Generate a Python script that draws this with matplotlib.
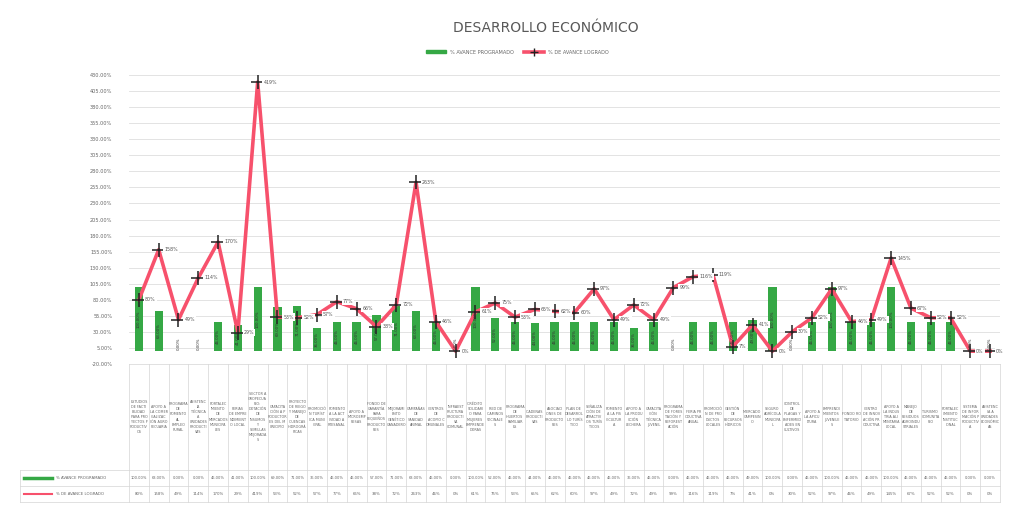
import textwrap
import matplotlib
matplotlib.use("Agg")
import matplotlib.pyplot as plt
from matplotlib.lines import Line2D
from matplotlib.patches import Patch

# data (values in %)
categorias = [
    "Estudios de factibilidad para proyectos productivos",
    "Apoyo a la comercialización agropecuaria",
    "Programa de fomento al empleo rural",
    "Asistencia técnica a unidades productivas",
    "Fortalecimiento de mercados municipales",
    "Ferias de emprendimiento local",
    "Sector agropecuario: dotación de insumos y semillas mejoradas",
    "Capacitación a productores del municipio",
    "Proyecto de riego y manejo de cuencas hidrográficas",
    "Promoción turística municipal",
    "Fomento a la actividad artesanal",
    "Apoyo a microempresas",
    "Fondo de garantía para pequeños productores",
    "Mejoramiento genético ganadero",
    "Campañas de sanidad animal",
    "Centros de acopio comunales",
    "Infraestructura productiva comunal",
    "Crédito solidario para mujeres emprendedoras",
    "Red de caminos vecinales",
    "Programa de huertos familiares",
    "Cadenas productivas",
    "Asociaciones de productores",
    "Plan de desarrollo turístico",
    "Señalización de atractivos turísticos",
    "Fomento a la piscicultura",
    "Apoyo a la producción lechera",
    "Capacitación técnica juvenil",
    "Programa de forestación y reforestación",
    "Feria productiva anual",
    "Promoción de productos locales",
    "Gestión de recursos hídricos",
    "Mercado campesino",
    "Seguro agrícola municipal",
    "Control de plagas y enfermedades en cultivos",
    "Apoyo a la apicultura",
    "Emprendimientos juveniles",
    "Fondo rotatorio",
    "Centro de innovación productiva",
    "Apoyo a la industria alimentaria local",
    "Manejo de residuos agroindustriales",
    "Turismo comunitario",
    "Fortalecimiento institucional",
    "Sistema de información productiva",
    "Asistencia a unidades económicas",
]
programado = [100, 63, 0, 0, 46, 41, 100, 69, 71, 36, 46, 46, 57, 71, 63, 46,
              0, 100, 52, 46, 44, 46, 46, 46, 46, 36, 46, 0, 46, 46, 46, 49,
              100, 0, 46, 100, 46, 46, 100, 46, 46, 46, 0, 0]
avance = [80, 158, 49, 114, 170, 29, 419, 53, 52, 57, 77, 66, 38, 72, 263, 46,
          0, 61, 75, 53, 65, 62, 60, 97, 49, 72, 49, 99, 116, 119, 7, 41,
          0, 30, 52, 97, 46, 49, 145, 67, 52, 52, 0, 0]

serie_barras = "% AVANCE PROGRAMADO"
serie_linea = "% DE AVANCE LOGRADO"

verde = "#35a845"
rojo = "#f7516c"
texto = "#666666"

fig = plt.figure(figsize=(10.14, 5.11), dpi=100)
ax = fig.add_axes([129 / 1014, 1 - 364 / 511, 871 / 1014, 289 / 511])

x = list(range(len(categorias)))
ax.bar(x, programado, width=0.42, color=verde, zorder=2)
ax.plot(x, avance, color=rojo, lw=2.6, marker="+", ms=10, mew=1.1,
        mec="#222222", zorder=3)

for i, v in enumerate(programado):
    ax.text(i, v / 2 if v > 0 else 12, f"{v:.2f}%", rotation=90, ha="center",
            va="center", fontsize=2.8, color="#333333", zorder=4)
for i, v in enumerate(avance):
    ax.text(i + 0.3, v, f"{v}%", ha="left", va="center", fontsize=3.4,
            color="#555555", zorder=5,
            bbox=dict(facecolor="white", edgecolor="none", pad=0.8))

ax.set_xlim(-0.5, len(categorias) - 0.5)
ax.set_ylim(-20, 430)
ax.set_yticks(range(-20, 431, 25))
ax.set_yticklabels([f"{t:.2f}%" for t in range(-20, 431, 25)], fontsize=3.6,
                   color=texto)
ax.set_xticks([])
ax.tick_params(axis="y", length=0, pad=12)
ax.grid(axis="y", color="#dedede", lw=0.6, zorder=0)
for s in ax.spines.values():
    s.set_visible(False)

# data table under the chart (Excel style)
tr = ax.get_xaxis_transform()
y_head = 0.0
y_r1 = (364 - 470) / 289
y_r2 = (364 - 486) / 289
y_end = (364 - 502) / 289
x_left = (20 - 129) / 871 * len(categorias) - 0.5
linea_tabla = dict(color="#d5d5d5", lw=0.5, transform=tr, clip_on=False)

for b in range(len(categorias) + 1):
    ax.add_line(Line2D([b - 0.5, b - 0.5], [y_head, y_end], **linea_tabla))
ax.add_line(Line2D([-0.5, len(categorias) - 0.5], [y_head, y_head], **linea_tabla))
for yy in (y_r1, y_r2, y_end):
    ax.add_line(Line2D([x_left, len(categorias) - 0.5], [yy, yy], **linea_tabla))
ax.add_line(Line2D([x_left, x_left], [y_r1, y_end], **linea_tabla))

for i, c in enumerate(categorias):
    ax.text(i, (y_head + y_r1) / 2, "\n".join(textwrap.wrap(c.upper(), 8)),
            ha="center", va="center", fontsize=2.4, color=texto,
            transform=tr, clip_on=False, linespacing=1.35)
    ax.text(i, (y_r1 + y_r2) / 2, f"{programado[i]:.2f}%", ha="center",
            va="center", fontsize=2.6, color=texto, transform=tr, clip_on=False)
    ax.text(i, (y_r2 + y_end) / 2, f"{avance[i]}%", ha="center",
            va="center", fontsize=2.8, color=texto, transform=tr, clip_on=False)

ax.add_line(Line2D([x_left + 0.2, x_left + 1.6], [(y_r1 + y_r2) / 2] * 2,
                   color=verde, lw=2.5, transform=tr, clip_on=False))
ax.text(x_left + 1.8, (y_r1 + y_r2) / 2, serie_barras, fontsize=2.8, va="center",
        color=texto, transform=tr, clip_on=False)
ax.add_line(Line2D([x_left + 0.2, x_left + 1.6], [(y_r2 + y_end) / 2] * 2,
                   color=rojo, lw=1.5, transform=tr, clip_on=False))
ax.text(x_left + 1.8, (y_r2 + y_end) / 2, serie_linea, fontsize=2.8, va="center",
        color=texto, transform=tr, clip_on=False)

fig.text(0.538, 1 - 28 / 511, "DESARROLLO ECONÓMICO", ha="center", va="center",
         fontsize=10, color="#595959")
handles = [Patch(color=verde, label=serie_barras),
           Line2D([0], [0], color=rojo, lw=2.6, marker="+", ms=6, mec="#222222",
                  label=serie_linea)]
fig.legend(handles=handles, loc="center", bbox_to_anchor=(0.51, 1 - 52 / 511),
           ncol=2, frameon=False, fontsize=3.6, handlelength=4, columnspacing=2,
           labelcolor=texto)

fig.savefig("out.png", dpi=100, facecolor="white")
